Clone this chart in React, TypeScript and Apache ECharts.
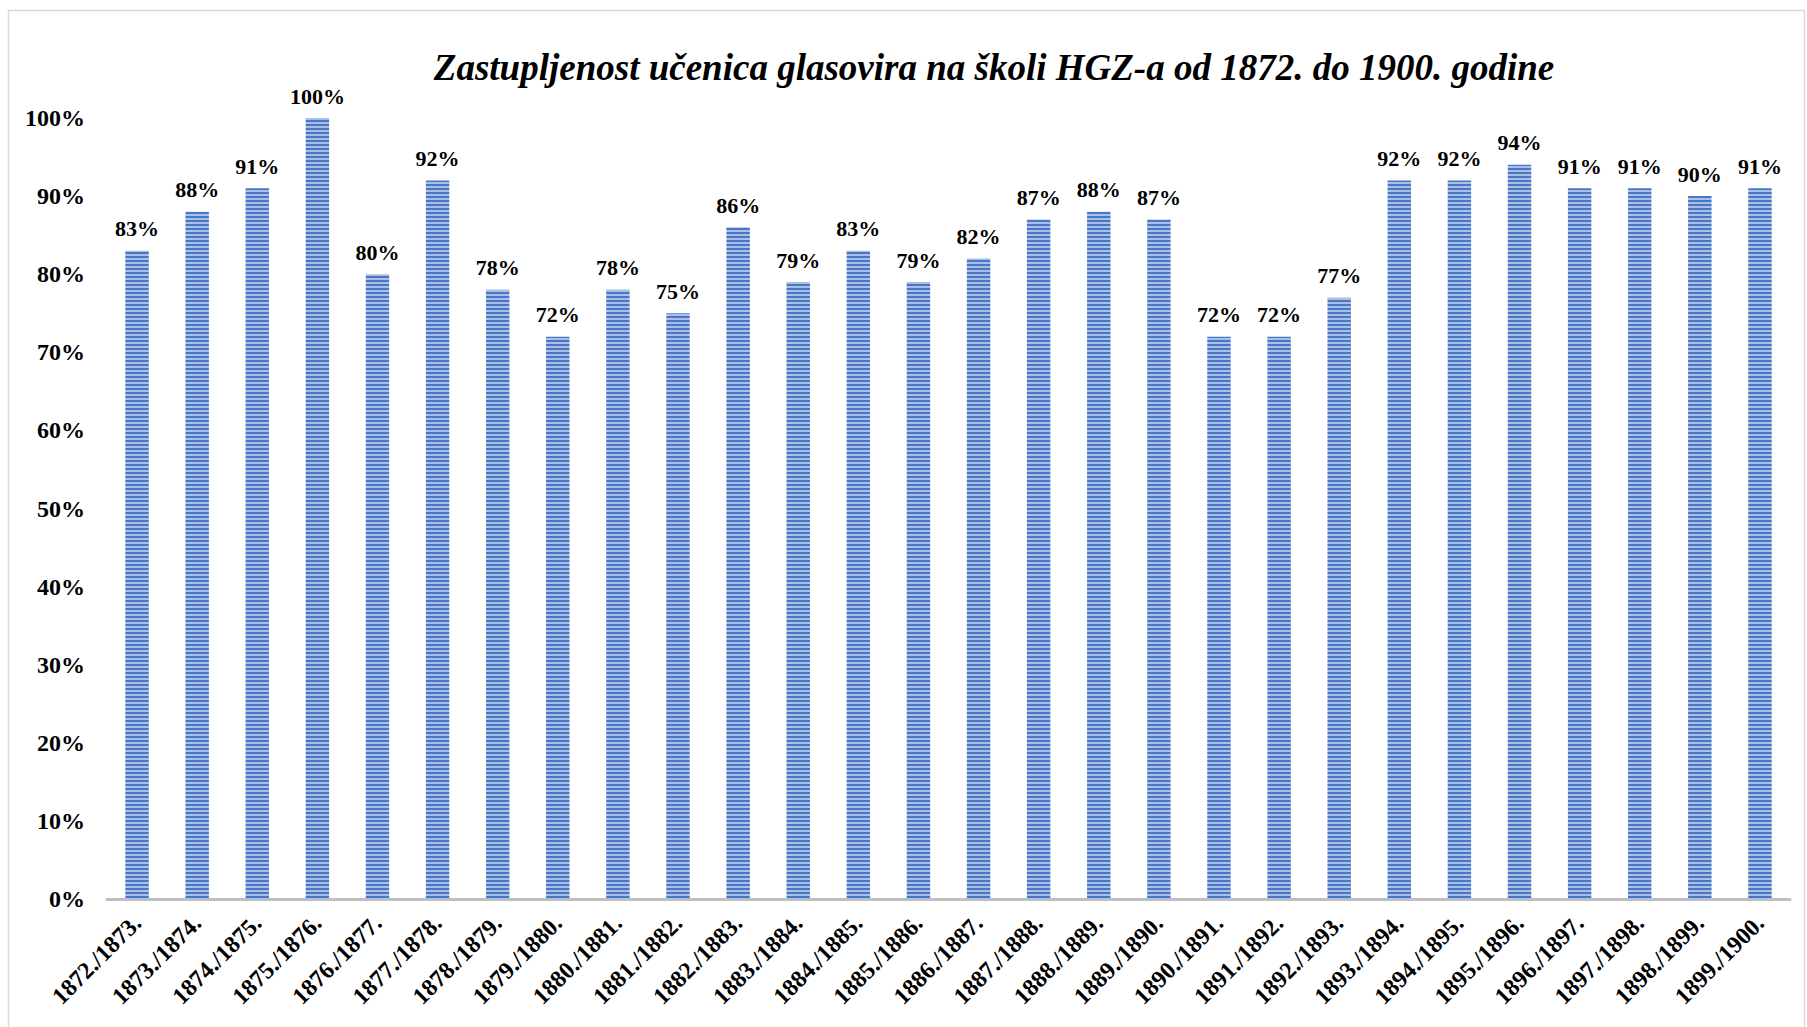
import React, { useEffect, useRef } from "react";
import * as echarts from "echarts";

const TITLE = "Zastupljenost učenica glasovira na školi HGZ-a od 1872. do 1900. godine";

const categories = [
  "1872./1873.", "1873./1874.", "1874./1875.", "1875./1876.", "1876./1877.",
  "1877./1878.", "1878./1879.", "1879./1880.", "1880./1881.", "1881./1882.",
  "1882./1883.", "1883./1884.", "1884./1885.", "1885./1886.", "1886./1887.",
  "1887./1888.", "1888./1889.", "1889./1890.", "1890./1891.", "1891./1892.",
  "1892./1893.", "1893./1894.", "1894./1895.", "1895./1896.", "1896./1897.",
  "1897./1898.", "1898./1899.", "1899./1900.",
];

const values = [
  83, 88, 91, 100, 80, 92, 78, 72, 78, 75, 86, 79, 83, 79, 82, 87, 88, 87,
  72, 72, 77, 92, 92, 94, 91, 91, 90, 91,
];

const FONT = "'Liberation Serif', 'Times New Roman', serif";

function makePattern(): HTMLCanvasElement {
  const c = document.createElement("canvas");
  c.width = 4;
  c.height = 4;
  const ctx = c.getContext("2d")!;
  ctx.fillStyle = "#4A76C6";
  ctx.fillRect(0, 0, 4, 2);
  ctx.fillStyle = "#A9BFE6";
  ctx.fillRect(0, 2, 4, 2);
  return c;
}

export default function App() {
  const ref = useRef<HTMLDivElement>(null);
  useEffect(() => {
    document.body.style.margin = "0";
    const chart = echarts.init(ref.current!, null, { renderer: "svg" });
    const pattern = makePattern();
    chart.setOption({
      animation: false,
      backgroundColor: "#ffffff",
      graphic: [
        {
          type: "rect",
          shape: { x: 8.5, y: 10.5, width: 1796, height: 1040 },
          style: { fill: "none", stroke: "#D9D9D9", lineWidth: 1.5 },
          silent: true,
        },
        {
          type: "text",
          x: 994,
          y: 67,
          style: {
            text: TITLE,
            font: `italic bold 37px ${FONT}`,
            fill: "#000000",
            textAlign: "center",
            textVerticalAlign: "middle",
          },
        },
      ],
      grid: { left: 107, right: 17, top: 118, bottom: 128, containLabel: false },
      xAxis: {
        type: "category",
        data: categories,
        axisLine: { show: true, lineStyle: { color: "#BFBFBF", width: 3 } },
        axisTick: { show: false },
        axisLabel: {
          rotate: 45,
          interval: 0,
          margin: 20,
          color: "#000000",
          fontFamily: FONT,
          fontWeight: "bold",
          fontSize: 24,
        },
      },
      yAxis: {
        type: "value",
        min: 0,
        max: 100,
        interval: 10,
        splitLine: { show: false },
        axisLine: { show: false },
        axisTick: { show: false },
        axisLabel: {
          formatter: "{value}%",
          margin: 22,
          color: "#000000",
          fontFamily: FONT,
          fontWeight: "bold",
          fontSize: 24,
        },
      },
      series: [
        {
          type: "bar",
          data: values,
          barWidth: "39%",
          itemStyle: { color: { image: pattern, repeat: "repeat" } },
          label: {
            show: true,
            position: "top",
            distance: 11,
            formatter: "{c}%",
            color: "#000000",
            fontFamily: FONT,
            fontWeight: "bold",
            fontSize: 22,
          },
        },
      ],
    });
    return () => chart.dispose();
  }, []);
  return <div ref={ref} style={{ width: 1807, height: 1027 }} />;
}
